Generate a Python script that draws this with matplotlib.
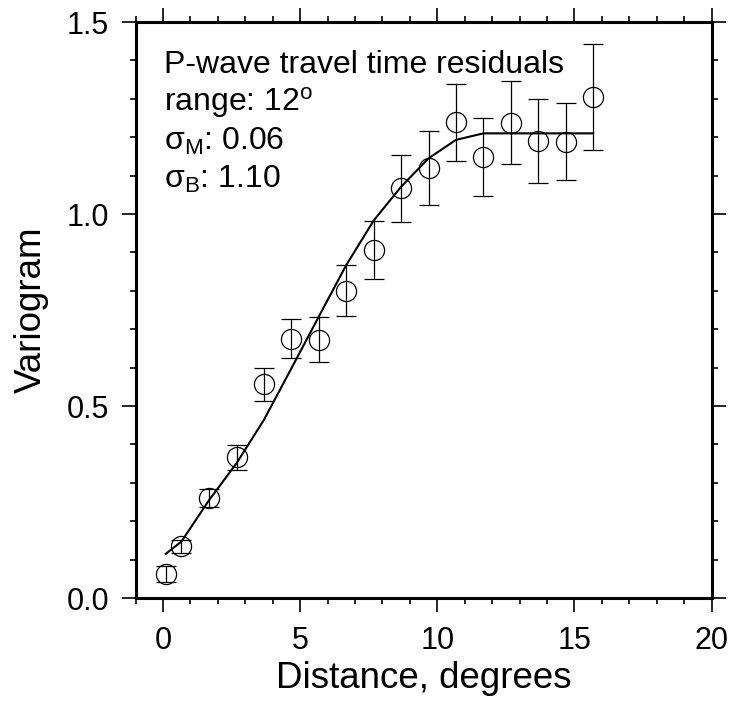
import matplotlib
matplotlib.use('Agg')
import matplotlib.pyplot as plt
from matplotlib.ticker import MultipleLocator

plt.rcParams['font.family'] = ['Liberation Sans', 'DejaVu Sans']
plt.rcParams['mathtext.fontset'] = 'custom'
plt.rcParams['mathtext.rm'] = 'Liberation Sans'
plt.rcParams['mathtext.it'] = 'Liberation Sans:italic'

# binned variogram estimates
dist = [0.1, 0.67, 1.68, 2.68, 3.68, 4.68, 5.68, 6.68, 7.68, 8.68,
        9.68, 10.68, 11.68, 12.68, 13.68, 14.68, 15.68]
gamma = [0.0625, 0.135, 0.261, 0.366, 0.556, 0.675, 0.673, 0.800, 0.906,
         1.067, 1.12, 1.239, 1.148, 1.238, 1.191, 1.188, 1.305]
gamma_err = [0.022, 0.017, 0.023, 0.033, 0.044, 0.051, 0.059, 0.066, 0.076,
             0.087, 0.097, 0.10, 0.101, 0.108, 0.109, 0.10, 0.138]

# fitted model evaluated at the same distances
model = [0.115, 0.147, 0.255, 0.351, 0.464, 0.598, 0.733, 0.867, 0.983,
         1.071, 1.145, 1.193, 1.21, 1.21, 1.21, 1.21, 1.21]

notes = ['P-wave travel time residuals',
         'range: 12$^{\\mathregular{o}}$',
         '$\\mathregular{\\sigma_M}$: 0.06',
         '$\\mathregular{\\sigma_B}$: 1.10']

fig = plt.figure(figsize=(7.33, 7.06), dpi=100)
ax = fig.add_axes([135.6 / 733, (706 - 598) / 706, 576 / 733, 576 / 706])

ax.errorbar(dist, gamma, yerr=gamma_err, fmt='o', mfc='none', mec='black',
            ms=14.5, mew=0.9, ecolor='black', elinewidth=0.9, capsize=7,
            capthick=0.9, zorder=3)
ax.plot(dist, model, color='black', lw=1.5, zorder=4)

for i, s in enumerate(notes):
    ax.text(0.04, 1.367 - i * 0.0995, s, fontsize=23, va='baseline', ha='left')

ax.set_xlim(-1, 20)
ax.set_ylim(0, 1.5)
ax.xaxis.set_major_locator(MultipleLocator(5))
ax.xaxis.set_minor_locator(MultipleLocator(1))
ax.yaxis.set_major_locator(MultipleLocator(0.5))
ax.yaxis.set_minor_locator(MultipleLocator(0.1))
ax.yaxis.set_major_formatter(plt.FuncFormatter(lambda v, p: '%.1f' % v))

ax.tick_params(which='both', direction='out', top=True, right=True, width=1.2)
ax.tick_params(which='major', length=10, labelsize=22)
ax.tick_params(axis='x', which='major', pad=10)
ax.tick_params(axis='y', which='major', pad=9)
ax.tick_params(which='minor', length=4.5)
for sp in ax.spines.values():
    sp.set_linewidth(2.2)

ax.set_xlabel('Distance, degrees', fontsize=26.5, labelpad=4)
ax.set_ylabel('Variogram', fontsize=26.5, labelpad=13)

fig.savefig('out.png', dpi=100)
